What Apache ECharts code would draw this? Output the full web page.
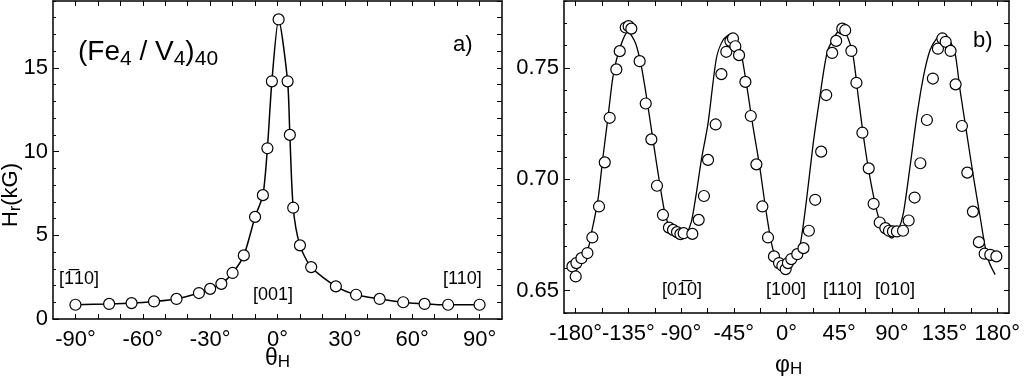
<!DOCTYPE html>
<html>
<head>
<meta charset="utf-8">
<script src="https://cdn.jsdelivr.net/npm/echarts@6/dist/echarts.min.js"></script>
<style>
  html, body { margin: 0; padding: 0; background: #fff; }
  #chart { width: 1024px; height: 376px; }
</style>
</head>
<body>
<div id="chart"></div>
<script>
// panel a) : resonance field vs polar angle
const thetaDeg = [-90, -75, -65, -55, -45, -35, -30, -25, -20, -15, -10, -6.5, -4.5, -2.5, 0.5, 4.5, 5.5, 7, 10, 15, 26, 35, 45.5, 56, 65.5, 76, 90];
const hrPolar = [0.85, 0.9, 0.95, 1.05, 1.2, 1.55, 1.8, 2.1, 2.75, 3.8, 6.1, 7.4, 10.2, 14.2, 17.9, 14.2, 11.0, 6.65, 4.4, 3.1, 1.95, 1.45, 1.2, 1.0, 0.9, 0.85, 0.85];

// panel b) : measured points vs azimuthal angle
const phiDeg = [-182.8, -180, -179.4, -175.1, -170, -165.8, -160.1, -155.2, -151, -145.3, -142.4, -137.3, -134.8, -132.5, -125.4, -120.2, -115.4, -110.6, -105.5, -100.4, -96.9, -93.5, -90.6, -87.8, -80.4, -75, -70.5, -67, -60.5, -55.6, -51.4, -47.9, -45.7, -43.7, -40.5, -35.1, -30.5, -25.7, -20.6, -15.8, -10.7, -6.4, -3.5, -0.7, 1.2, 4.1, 9.2, 14.5, 19.1, 24.5, 29.6, 33.9, 39, 42.4, 47.6, 50.1, 55.4, 59.7, 64.8, 70.2, 74.4, 79.6, 84.4, 87.5, 90.9, 94.3, 99.5, 104.3, 109.4, 114.3, 119.9, 125, 129.3, 133.1, 135.9, 140.1, 144.4, 149.8, 154.4, 159.2, 164.3, 169.2, 174, 179.2];
const hrAzim = [0.6609, 0.6564, 0.6624, 0.6646, 0.6669, 0.6739, 0.6878, 0.7076, 0.7276, 0.7493, 0.7575, 0.7681, 0.7687, 0.7676, 0.753, 0.734, 0.7179, 0.6971, 0.684, 0.6783, 0.6773, 0.6763, 0.6754, 0.6758, 0.6755, 0.6818, 0.6925, 0.7087, 0.7246, 0.7472, 0.7572, 0.762, 0.7632, 0.7597, 0.7557, 0.7437, 0.7284, 0.7067, 0.6878, 0.6739, 0.6654, 0.6624, 0.6612, 0.6597, 0.6624, 0.6642, 0.6664, 0.6691, 0.6769, 0.6908, 0.7124, 0.7378, 0.7567, 0.7621, 0.7676, 0.7669, 0.7576, 0.7433, 0.7209, 0.7049, 0.689, 0.6806, 0.6781, 0.6769, 0.6766, 0.6766, 0.6769, 0.6815, 0.6918, 0.7072, 0.7266, 0.7452, 0.7586, 0.7632, 0.7617, 0.7576, 0.7426, 0.7239, 0.703, 0.6855, 0.6718, 0.6666, 0.6661, 0.6654];

// panel b) : fitted curve
const fitPhi = [-182.3, -169.5, -166.6, -161, -156.7, -152.4, -148.2, -142.4, -135.3, -128.8, -123.9, -119.1, -114, -108.3, -103.2, -98.3, -91.2, -85.5, -81.2, -77, -72.7, -67, -59.9, -54.3, -47.1, -40, -34.3, -28.6, -22.9, -17.2, -11.5, -4.4, 0, 5.6, 11.4, 17.1, 22.8, 28.5, 34.2, 39.9, 47, 52.7, 57, 61.3, 67, 72.7, 78.4, 84.1, 89.8, 95.5, 99.8, 105.5, 111.2, 116.9, 122.6, 128.3, 133.4, 138.2, 143.9, 148.2, 153.9, 159.6, 165.3, 169.6, 173.3, 178.2];
const fitHr = [0.6616, 0.6691, 0.6758, 0.6908, 0.7101, 0.728, 0.746, 0.7587, 0.7662, 0.7609, 0.7505, 0.7355, 0.7176, 0.6982, 0.6833, 0.6773, 0.6739, 0.6758, 0.681, 0.6937, 0.7087, 0.7251, 0.7542, 0.7624, 0.7654, 0.7594, 0.743, 0.7236, 0.7057, 0.6848, 0.6684, 0.6609, 0.6586, 0.6624, 0.6698, 0.6908, 0.7161, 0.737, 0.7557, 0.7632, 0.7676, 0.7632, 0.755, 0.737, 0.7146, 0.6967, 0.6833, 0.6766, 0.6736, 0.6773, 0.6848, 0.7057, 0.728, 0.746, 0.758, 0.7632, 0.7654, 0.7632, 0.7566, 0.74, 0.7206, 0.7012, 0.6833, 0.6698, 0.6624, 0.6572];

// tick labels / tick positions
const thetaLabels = [-90, -60, -30, 0, 30, 60, 90];
const thetaTicks = [-90, -80, -70, -60, -50, -40, -30, -20, -10, 0, 10, 20, 30, 40, 50, 60, 70, 80, 90];
const hrPolarLabels = [0, 5, 10, 15];
const phiLabels = [-180, -135, -90, -45, 0, 45, 90, 135, 180];
const phiTicks = [-180, -157.5, -135, -112.5, -90, -67.5, -45, -22.5, 0, 22.5, 45, 67.5, 90, 112.5, 135, 157.5, 180];
const hrAzimLabels = [0.65, 0.70, 0.75];

const FONT = '"Liberation Sans", Arial, Helvetica, sans-serif';
const BLACK = '#000';

const chart = echarts.init(document.getElementById('chart'), null, { renderer: 'canvas' });

function xAx(grid, pos, min, max, ticks, labels) {
  return {
    type: 'value', gridIndex: grid, position: pos, min: min, max: max,
    axisLine: { show: true, onZero: false, lineStyle: { color: BLACK, width: 1.5 } },
    axisTick: { show: true, inside: true, length: 5, customValues: ticks, lineStyle: { color: BLACK, width: 1 } },
    axisLabel: labels ? {
      show: true, customValues: labels, formatter: v => v + '°',
      color: BLACK, fontSize: 22, fontFamily: FONT, margin: 10
    } : { show: false },
    splitLine: { show: false }
  };
}

function yAx(grid, pos, min, max, opts) {
  return Object.assign({
    type: 'value', gridIndex: grid, position: pos, min: min, max: max,
    axisLine: { show: true, onZero: false, lineStyle: { color: BLACK, width: 1.5 } },
    axisLabel: { show: false },
    splitLine: { show: false }
  }, opts);
}

const option = {
  backgroundColor: '#fff',
  animation: false,
  grid: [
    { left: 53, top: 1, width: 449, height: 318 },
    { left: 564, top: 1, width: 445, height: 312 }
  ],
  xAxis: [
    xAx(0, 'bottom', -100, 100, thetaTicks, thetaLabels),
    xAx(0, 'top', -100, 100, thetaTicks, null),
    xAx(1, 'bottom', -190, 190, phiTicks, phiLabels),
    xAx(1, 'top', -190, 190, phiTicks, null)
  ],
  yAxis: [
    yAx(0, 'left', 0, 19, {
      axisTick: { show: true, inside: true, length: 6, customValues: hrPolarLabels, lineStyle: { color: BLACK } },
      axisLabel: { show: true, customValues: hrPolarLabels, color: BLACK, fontSize: 22, fontFamily: FONT, margin: 5 }
    }),
    yAx(0, 'left', 0, 19, {
      interval: 1,
      axisLine: { show: false, onZero: false },
      axisTick: { show: true, inside: true, length: 3, lineStyle: { color: BLACK } }
    }),
    yAx(0, 'right', 0, 19, {
      interval: 1,
      axisTick: { show: true, inside: true, length: 5, lineStyle: { color: BLACK } }
    }),
    yAx(1, 'left', 0.64, 0.78, {
      axisTick: { show: true, inside: true, length: 6, customValues: hrAzimLabels, lineStyle: { color: BLACK } },
      axisLabel: { show: true, customValues: hrAzimLabels, formatter: v => v.toFixed(2), color: BLACK, fontSize: 22, fontFamily: FONT, margin: 5 }
    }),
    yAx(1, 'left', 0.64, 0.78, {
      interval: 0.01,
      axisLine: { show: false, onZero: false },
      axisTick: { show: true, inside: true, length: 3, lineStyle: { color: BLACK } }
    }),
    yAx(1, 'right', 0.64, 0.78, {
      interval: 0.01,
      axisTick: { show: true, inside: true, length: 5, lineStyle: { color: BLACK } }
    })
  ],
  series: [
    {
      type: 'line', xAxisIndex: 0, yAxisIndex: 0,
      data: thetaDeg.map((t, i) => [t, hrPolar[i]]),
      smooth: 0.25,
      symbol: 'circle', symbolSize: 11, showAllSymbol: true,
      lineStyle: { color: BLACK, width: 1.5 },
      itemStyle: { color: '#fff', borderColor: BLACK, borderWidth: 1.2 },
      z: 3
    },
    {
      type: 'line', xAxisIndex: 2, yAxisIndex: 3,
      data: fitPhi.map((p, i) => [p, fitHr[i]]),
      smooth: 0.25, showSymbol: false,
      lineStyle: { color: BLACK, width: 1.3 },
      z: 2
    },
    {
      type: 'scatter', xAxisIndex: 2, yAxisIndex: 3,
      data: phiDeg.map((p, i) => [p, hrAzim[i]]),
      symbol: 'circle', symbolSize: 11,
      itemStyle: { color: '#fff', borderColor: BLACK, borderWidth: 1.2, opacity: 1 },
      z: 3
    }
  ],
  graphic: [
    {
      type: 'text', left: 78, top: 30,
      style: {
        text: '{n|(Fe}{s|4}{n| / V}{s|4}{n|)}{s|40}',
        fill: BLACK, font: '28px ' + FONT,
        rich: {
          n: { fontSize: 28, fontFamily: FONT, lineHeight: 32, verticalAlign: 'top', fill: BLACK },
          s: { fontSize: 21, fontFamily: FONT, lineHeight: 21, padding: [19, 0, 0, 0], verticalAlign: 'bottom', fill: BLACK }
        }
      }
    },
    { type: 'text', left: 453, top: 34, style: { text: 'a)', fill: BLACK, font: '22px ' + FONT } },
    { type: 'text', left: 973, top: 30, style: { text: 'b)', fill: BLACK, font: '22px ' + FONT } },
    { type: 'text', left: 59, top: 270, style: { text: '[1\u030510]', fill: BLACK, font: '18px ' + FONT } },
    { type: 'text', left: 253, top: 286, style: { text: '[001]', fill: BLACK, font: '18px ' + FONT } },
    { type: 'text', left: 443, top: 270, style: { text: '[110]', fill: BLACK, font: '18px ' + FONT } },
    { type: 'text', left: 662, top: 281, style: { text: '[01\u03050]', fill: BLACK, font: '18px ' + FONT } },
    { type: 'text', left: 766, top: 281, style: { text: '[100]', fill: BLACK, font: '18px ' + FONT } },
    { type: 'text', left: 823, top: 281, style: { text: '[110]', fill: BLACK, font: '18px ' + FONT } },
    { type: 'text', left: 875, top: 281, style: { text: '[010]', fill: BLACK, font: '18px ' + FONT } },
    {
      type: 'text', left: 265, top: 342,
      style: {
        text: '{n|θ}{s|H}', fill: BLACK,
        rich: {
          n: { fontSize: 23, fontFamily: FONT, lineHeight: 24, verticalAlign: 'top', fill: BLACK },
          s: { fontSize: 17, fontFamily: FONT, lineHeight: 17, padding: [12, 0, 0, 0], verticalAlign: 'bottom', fill: BLACK }
        }
      }
    },
    {
      type: 'text', left: 775, top: 349,
      style: {
        text: '{n|φ}{s|H}', fill: BLACK,
        rich: {
          n: { fontSize: 23, fontFamily: FONT, lineHeight: 24, verticalAlign: 'top', fill: BLACK },
          s: { fontSize: 17, fontFamily: FONT, lineHeight: 17, padding: [12, 0, 0, 0], verticalAlign: 'bottom', fill: BLACK }
        }
      }
    },
    {
      type: 'text', x: 12, y: 195, rotation: Math.PI / 2,
      style: {
        text: '{n|H}{s|r}{n|(kG)}', fill: BLACK, align: 'center', verticalAlign: 'middle',
        rich: {
          n: { fontSize: 22, fontFamily: FONT, lineHeight: 24, verticalAlign: 'top', fill: BLACK },
          s: { fontSize: 16, fontFamily: FONT, lineHeight: 16, padding: [11, 0, 0, 0], verticalAlign: 'bottom', fill: BLACK }
        }
      }
    }
  ]
};

chart.setOption(option);
window.addEventListener('resize', () => chart.resize());
</script>
</body>
</html>
